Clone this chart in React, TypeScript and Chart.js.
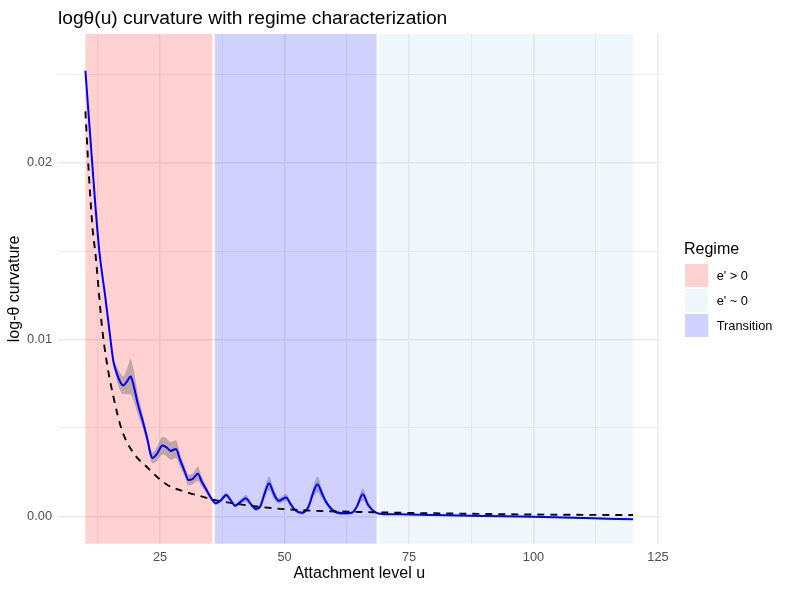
import React, { useEffect, useRef } from "react";
import { Chart, registerables } from "chart.js";

Chart.register(...registerables);

const FAMILY = '"Liberation Sans", Arial, Helvetica, sans-serif';

// Estimated log-theta curvature along the attachment level u
const curveU = [
  10, 11, 12, 12.8, 14, 15, 15.6, 16.3, 17, 17.6, 18.3, 19.1, 19.6, 20.5, 21.5, 22.5, 23.1, 23.5,
  24.3, 25.5, 26.3, 27.1, 28.2, 29, 30, 30.7, 31.5, 32.6, 33.3, 34.3, 35.4, 36.2, 37.2, 38.3,
  39.2, 40.1, 41.1, 42.2, 43.2, 44.3, 45.1, 46, 46.9, 47.8, 48.8, 50.3, 51.2, 52.1, 53.5, 54.8,
  55.7, 56.6, 57.5, 58.3, 59.8, 61.8, 63.5, 64.5, 65.7, 66.8, 68.2, 69.5, 73, 80, 90, 100, 110, 120,
];
const curveVal = [
  0.0252, 0.0214, 0.0176, 0.015, 0.0124, 0.0101, 0.0088, 0.0081, 0.0076, 0.0074, 0.0076, 0.0079,
  0.0075, 0.0064, 0.0054, 0.0043, 0.0035, 0.0033, 0.0035, 0.004, 0.0039, 0.0037, 0.0038, 0.0032,
  0.0025, 0.00205, 0.0021, 0.0024, 0.002, 0.0015, 0.00096, 0.00074, 0.0009, 0.0012, 0.0009, 0.0006,
  0.0008, 0.00102, 0.0007, 0.00041, 0.00054, 0.0013, 0.00187, 0.0013, 0.00088, 0.00107, 0.0007,
  0.00036, 0.0002, 0.00054, 0.0013, 0.00181, 0.0013, 0.00083, 0.00032, 0.00017, 0.0002, 0.00054,
  0.00124, 0.00064, 0.00023, 0.00013, 0.00011, 0.00007, 0.00002, -0.00002, -0.0001, -0.00017,
];
// Half-width of the uncertainty band around the estimate
const bandHalf = [
  0.0001, 0.0001, 0.0001, 0.00012, 0.00013, 0.00015, 0.0002, 0.0004, 0.0005, 0.0005, 0.0007, 0.001,
  0.0009, 0.0006, 0.0004, 0.0003, 0.0003, 0.0003, 0.0004, 0.0005, 0.0005, 0.0005, 0.0005, 0.0004,
  0.0003, 0.0003, 0.0003, 0.0004, 0.0003, 0.0002, 0.00015, 0.0001, 0.0001, 0.00015, 0.0001, 0.0001,
  0.00012, 0.0002, 0.00012, 0.0001, 0.0001, 0.0003, 0.0004, 0.0003, 0.00015, 0.0002, 0.00015,
  0.0001, 0.0001, 0.00012, 0.0003, 0.00045, 0.0003, 0.00015, 0.0001, 0.00008, 0.00008, 0.0001,
  0.00035, 0.00015, 0.00008, 0.00005, 0.00004, 0.00004, 0.00004, 0.00004, 0.00004, 0.00004,
];

// Reference decay curve (dashed)
const refU = [10, 10.5, 11, 11.5, 12, 12.7, 13.3, 14.3, 15.6, 17.3, 19.6, 22.3, 26.3, 30.4, 33, 35.5, 40, 43, 48, 53, 58, 63, 73, 85, 100, 120];
const refVal = [
  0.0229, 0.0203, 0.018, 0.0161, 0.0149, 0.0127, 0.0108, 0.0087, 0.0068, 0.0049, 0.0036, 0.0028,
  0.0018, 0.00136, 0.00115, 0.00095, 0.00072, 0.0006, 0.00045, 0.00035, 0.00029, 0.00026, 0.0002,
  0.00015, 0.0001, 0.00007,
];

// Regimes and the u-spans they cover
const regimeNames = ["e' > 0", "e' ~ 0", "Transition"];
const regimeFills = ["rgba(255,0,0,0.18)", "rgba(173,216,230,0.2)", "rgba(0,0,255,0.18)"];
const spanStart = [10, 36, 69];
const spanEnd = [35.5, 68.5, 120];
const spanRegime = [0, 2, 1];

// Axis ticks
const xMajorTicks = [25, 50, 75, 100, 125];
const xTickLabels = ["25", "50", "75", "100", "125"];
const xMinorTicks = [12.5, 37.5, 62.5, 87.5, 112.5];
const yMajorTicks = [0, 0.01, 0.02];
const yTickLabels = ["0.00", "0.01", "0.02"];
const yMinorTicks = [0.005, 0.015, 0.025];

const titleText = "logθ(u) curvature with regime characterization";
const xTitle = "Attachment level u";
const yTitle = "log-θ curvature";
const legendTitle = "Regime";

const near = (a: number, b: number) => Math.abs(a - b) < 1e-9;

const regimePlugin = {
  id: "regimeSpans",
  beforeDatasetsDraw(chart: any) {
    const { ctx, chartArea, scales } = chart;
    ctx.save();
    spanStart.forEach((s, i) => {
      const x1 = scales.x.getPixelForValue(s);
      const x2 = scales.x.getPixelForValue(spanEnd[i]);
      ctx.fillStyle = regimeFills[spanRegime[i]];
      ctx.fillRect(x1, chartArea.top, x2 - x1, chartArea.bottom - chartArea.top);
    });
    ctx.restore();
  },
};

const textPlugin = {
  id: "labelsAndLegend",
  afterDraw(chart: any) {
    const { ctx, chartArea } = chart;
    ctx.save();
    ctx.fillStyle = "#000000";
    ctx.textBaseline = "alphabetic";

    ctx.font = `19.2px ${FAMILY}`;
    ctx.textAlign = "left";
    ctx.fillText(titleText, 58, 23.5);

    ctx.font = `16px ${FAMILY}`;
    ctx.textAlign = "center";
    ctx.fillText(xTitle, (chartArea.left + chartArea.right) / 2, 578);

    ctx.save();
    ctx.translate(19, (chartArea.top + chartArea.bottom) / 2);
    ctx.rotate(-Math.PI / 2);
    ctx.fillText(yTitle, 0, 0);
    ctx.restore();

    ctx.textAlign = "left";
    ctx.font = `16px ${FAMILY}`;
    ctx.fillText(legendTitle, 684, 253.5);

    ctx.font = `12.8px ${FAMILY}`;
    regimeNames.forEach((name, i) => {
      const y = 264 + i * 25;
      ctx.fillStyle = "#ffffff";
      ctx.fillRect(685, y, 23.3, 23);
      ctx.fillStyle = regimeFills[i];
      ctx.fillRect(685, y, 23.3, 23);
      ctx.fillStyle = "#000000";
      ctx.fillText(name, 716.7, y + 16.3);
    });
    ctx.restore();
  },
};

export default function App() {
  const canvasRef = useRef<HTMLCanvasElement | null>(null);

  useEffect(() => {
    const canvas = canvasRef.current;
    if (!canvas) return;

    const curvePts = curveU.map((u, i) => ({ x: u, y: curveVal[i] }));
    const lowerPts = curveU.map((u, i) => ({ x: u, y: curveVal[i] - bandHalf[i] }));
    const upperPts = curveU.map((u, i) => ({ x: u, y: curveVal[i] + bandHalf[i] }));
    const refPts = refU.map((u, i) => ({ x: u, y: refVal[i] }));

    const chart = new Chart(canvas, {
      type: "line",
      data: {
        datasets: [
          {
            data: lowerPts,
            borderColor: "transparent",
            borderWidth: 0,
            pointRadius: 0,
            fill: false,
            cubicInterpolationMode: "monotone",
            order: 3,
          },
          {
            data: upperPts,
            borderColor: "transparent",
            borderWidth: 0,
            pointRadius: 0,
            fill: "-1",
            backgroundColor: "rgba(100,100,100,0.4)",
            cubicInterpolationMode: "monotone",
            order: 2,
          },
          {
            data: curvePts,
            borderColor: "#0000ff",
            borderWidth: 2,
            pointRadius: 0,
            fill: false,
            cubicInterpolationMode: "monotone",
            order: 1,
          },
          {
            data: refPts,
            borderColor: "#000000",
            borderWidth: 1.9,
            borderDash: [7, 6],
            pointRadius: 0,
            fill: false,
            cubicInterpolationMode: "monotone",
            order: 0,
          },
        ],
      },
      options: {
        responsive: false,
        animation: false,
        events: [],
        layout: { padding: { top: 34, right: 128.5, left: 0, bottom: 0 } },
        plugins: {
          legend: { display: false },
          tooltip: { enabled: false },
          title: { display: false },
        },
        scales: {
          x: {
            type: "linear",
            min: 4.5,
            max: 125.5,
            afterBuildTicks: (scale: any) => {
              scale.ticks = [...xMinorTicks, ...xMajorTicks]
                .sort((a, b) => a - b)
                .map((v) => ({ value: v }));
            },
            afterFit: (scale: any) => {
              scale.height = 46.3;
            },
            ticks: {
              autoSkip: false,
              maxRotation: 0,
              padding: 6.5,
              color: "#4D4D4D",
              font: { family: FAMILY, size: 12.8 },
              callback: (value: any) => {
                const idx = xMajorTicks.findIndex((t) => near(t, Number(value)));
                return idx >= 0 ? xTickLabels[idx] : "";
              },
            },
            grid: {
              drawTicks: false,
              color: "#EBEBEB",
              lineWidth: (c: any) =>
                xMajorTicks.some((t) => near(t, c.tick?.value)) ? 1.5 : 0.8,
            },
            border: { display: false },
          },
          y: {
            type: "linear",
            min: -0.00155,
            max: 0.027279,
            afterBuildTicks: (scale: any) => {
              scale.ticks = [...yMinorTicks, ...yMajorTicks]
                .sort((a, b) => a - b)
                .map((v) => ({ value: v }));
            },
            afterFit: (scale: any) => {
              scale.width = 58;
            },
            ticks: {
              autoSkip: false,
              padding: 6,
              color: "#4D4D4D",
              font: { family: FAMILY, size: 12.8 },
              callback: (value: any) => {
                const idx = yMajorTicks.findIndex((t) => near(t, Number(value)));
                return idx >= 0 ? yTickLabels[idx] : "";
              },
            },
            grid: {
              drawTicks: false,
              color: "#EBEBEB",
              lineWidth: (c: any) =>
                yMajorTicks.some((t) => near(t, c.tick?.value)) ? 1.5 : 0.8,
            },
            border: { display: false },
          },
        },
      },
      plugins: [regimePlugin, textPlugin],
    } as any);

    return () => chart.destroy();
  }, []);

  return (
    <div style={{ position: "absolute", left: 0, top: 0, width: 789, height: 590, background: "#ffffff" }}>
      <canvas ref={canvasRef} width={789} height={590} style={{ width: 789, height: 590 }} />
    </div>
  );
}
